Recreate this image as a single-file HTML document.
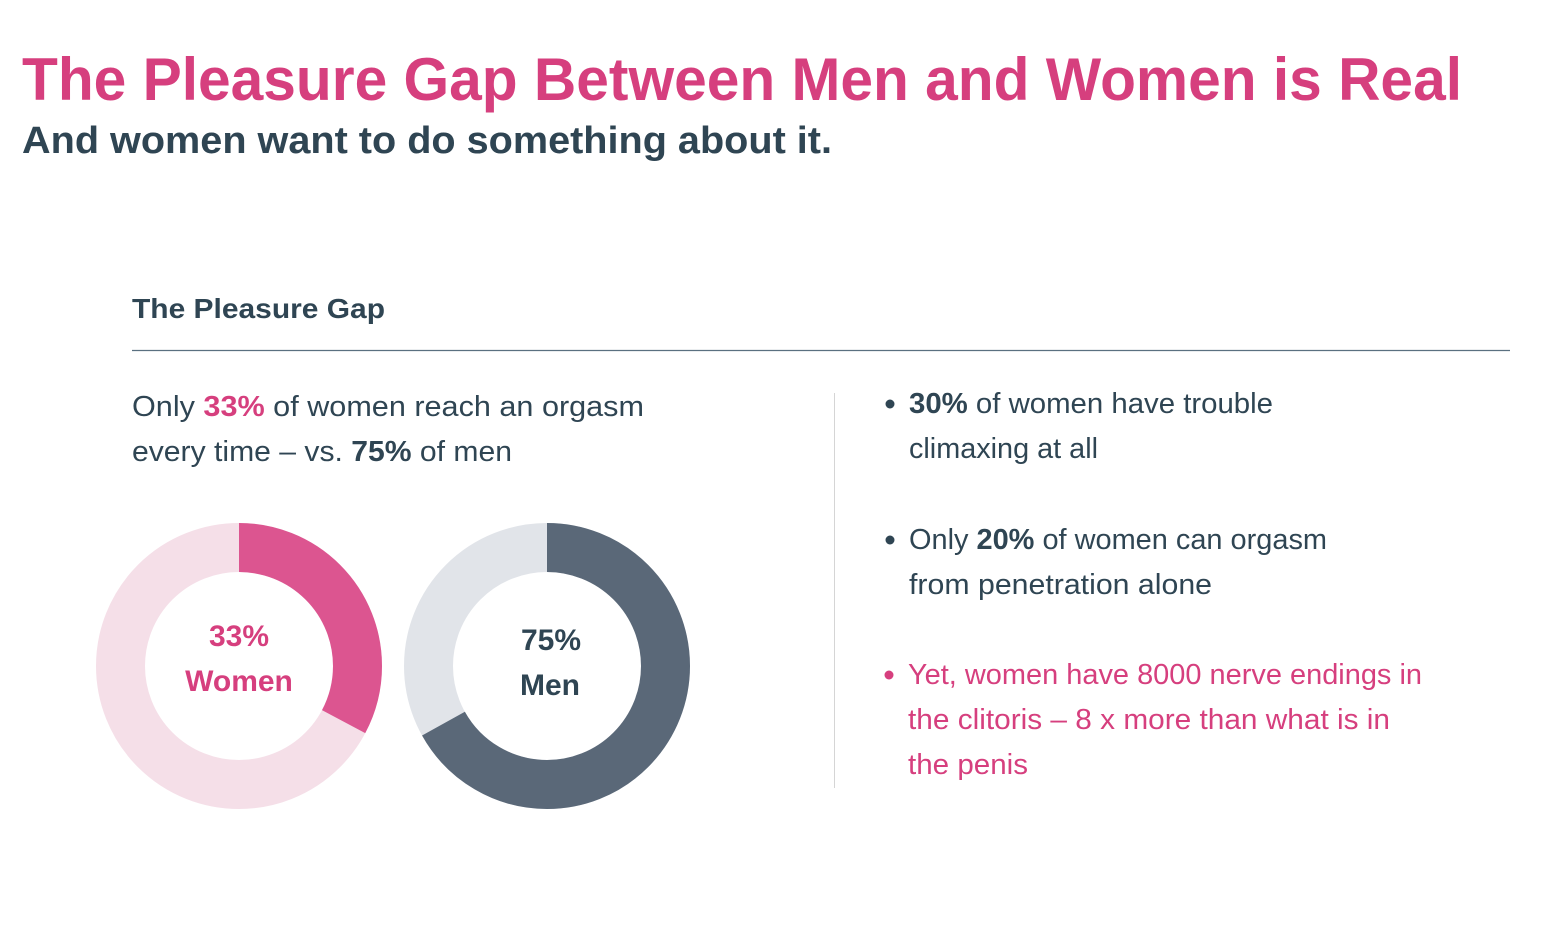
<!DOCTYPE html>
<html><head><meta charset="utf-8"><style>html,body{margin:0;padding:0;background:#fff}svg{display:block}</style></head>
<body>
<svg width="1550" height="930" viewBox="0 0 1550 930" xmlns="http://www.w3.org/2000/svg" font-family="Liberation Sans, sans-serif">
<rect width="1550" height="930" fill="#fff"/>
<text x="22" y="100" font-size="60" font-weight="bold" fill="#D63F7E" textLength="1440" lengthAdjust="spacingAndGlyphs">The Pleasure Gap Between Men and Women is Real</text>
<text x="22" y="153" font-size="38" font-weight="bold" fill="#2F4553" textLength="810" lengthAdjust="spacingAndGlyphs">And women want to do something about it.</text>
<text x="132" y="318" font-size="28" font-weight="bold" fill="#2F4553" textLength="253" lengthAdjust="spacingAndGlyphs">The Pleasure Gap</text>
<line x1="132" y1="350.5" x2="1510" y2="350.5" stroke="#5A7080" stroke-width="1.2"/>
<line x1="834.5" y1="393" x2="834.5" y2="788" stroke="#D5D5D5" stroke-width="1"/>
<g font-size="29" fill="#2F4553">
<text x="132" y="416" textLength="512" lengthAdjust="spacingAndGlyphs">Only <tspan fill="#D63F7E" font-weight="bold">33%</tspan> of women reach an  orgasm</text>
<text x="132" y="461" textLength="380" lengthAdjust="spacingAndGlyphs">every time – vs. <tspan font-weight="bold">75%</tspan> of men</text>
<text x="909" y="413" textLength="364" lengthAdjust="spacingAndGlyphs"><tspan font-weight="bold">30%</tspan> of women have trouble</text>
<text x="909" y="458" textLength="189" lengthAdjust="spacingAndGlyphs">climaxing at all</text>
<text x="909" y="549" textLength="418" lengthAdjust="spacingAndGlyphs">Only <tspan font-weight="bold">20%</tspan> of women can orgasm</text>
<text x="909" y="594" textLength="303" lengthAdjust="spacingAndGlyphs">from penetration alone</text>
<g fill="#D63F7E">
<text x="908" y="684" textLength="514" lengthAdjust="spacingAndGlyphs">Yet, women have 8000 nerve endings  in</text>
<text x="908" y="729" textLength="482" lengthAdjust="spacingAndGlyphs">the clitoris – 8 x more than what is in</text>
<text x="908" y="774" textLength="120" lengthAdjust="spacingAndGlyphs">the penis</text>
</g>
</g>
<circle cx="890" cy="404" r="4.5" fill="#2F4553"/>
<circle cx="890" cy="540" r="4.5" fill="#2F4553"/>
<circle cx="889" cy="675" r="4.5" fill="#D63F7E"/>
<!-- donuts: r mid 118.5, circumference 744.5 -->
<circle cx="239" cy="666" r="118.5" fill="none" stroke="#F5DFE8" stroke-width="49"/>
<circle cx="239" cy="666" r="118.5" fill="none" stroke="#DC5590" stroke-width="49" stroke-dasharray="244 600" transform="rotate(-90 239 666)"/>
<circle cx="547" cy="666" r="118.5" fill="none" stroke="#E1E4E9" stroke-width="49"/>
<circle cx="547" cy="666" r="118.5" fill="none" stroke="#5A6878" stroke-width="49" stroke-dasharray="498 600" transform="rotate(-90 547 666)"/>
<g font-size="30" font-weight="bold" text-anchor="middle">
<text x="239" y="646" fill="#D63F7E">33%</text>
<text x="239" y="691" fill="#D63F7E">Women</text>
<text x="551" y="650" fill="#2F4553">75%</text>
<text x="550" y="695" fill="#2F4553">Men</text>
</g>
</svg>
</body></html>
